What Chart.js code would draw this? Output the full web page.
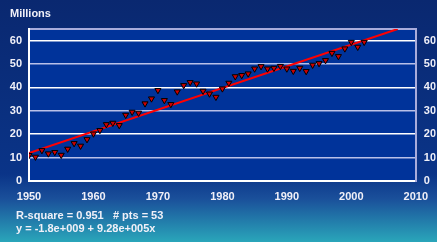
<!DOCTYPE html>
<html>
<head>
<meta charset="utf-8">
<script src="https://cdn.jsdelivr.net/npm/chart.js@4/dist/chart.umd.min.js"></script>
<style>
  html, body { margin: 0; padding: 0; background: #0a2a74; }
  #wrap { width: 437px; height: 242px; }
</style>
</head>
<body>
<div id="wrap"><canvas id="chart" width="437" height="242"></canvas></div>
<script>
// population values (millions)
const years = [1950, 1951, 1952, 1953, 1954, 1955, 1956, 1957, 1958, 1959,
  1960, 1961, 1962, 1963, 1964, 1965, 1966, 1967, 1968, 1969,
  1970, 1971, 1972, 1973, 1974, 1975, 1976, 1977, 1978, 1979,
  1980, 1981, 1982, 1983, 1984, 1985, 1986, 1987, 1988, 1989,
  1990, 1991, 1992, 1993, 1994, 1995, 1996, 1997, 1998, 1999,
  2000, 2001, 2002];
const values = [11.0, 10.3, 13.1, 11.7, 12.3, 11.1, 13.7, 16.1, 15.0, 17.8,
  20.2, 21.7, 24.2, 24.8, 23.8, 28.2, 29.5, 29.1, 33.1, 35.2,
  38.8, 34.5, 32.8, 38.2, 40.9, 42.2, 41.6, 38.5, 37.3, 35.9,
  39.5, 41.9, 44.7, 45.2, 45.9, 48.0, 49.0, 48.0, 48.3, 49.1,
  48.0, 47.0, 48.3, 46.9, 49.6, 50.3, 51.6, 54.7, 53.3, 56.6,
  59.4, 57.3, 59.4];

// fitted line end points
const fitX = [1950, 2007.2];
const fitY = [12.0, 65.0];

const xTicks = [1950, 1960, 1970, 1980, 1990, 2000, 2010];
const yTicks = [0, 10, 20, 30, 40, 50, 60];

const statsText = ['R-square = 0.951   # pts = 53', 'y = -1.8e+009 + 9.28e+005x'];
const unitLabel = 'Millions';

const FONT = 'bold 11px "Liberation Sans", Arial, sans-serif';

// background gradient + plot fill + texts
const decor = {
  id: 'decor',
  beforeDraw(chart) {
    const { ctx, chartArea: a, width, height } = chart;
    ctx.save();
    const g = ctx.createLinearGradient(0, 0, 0, height);
    g.addColorStop(0, '#0a2870');
    g.addColorStop(0.72, '#0a3488');
    g.addColorStop(0.82, '#1a4f9a');
    g.addColorStop(1, '#2aa6ba');
    ctx.fillStyle = g;
    ctx.fillRect(0, 0, width, height);
    ctx.fillStyle = '#00339a';
    ctx.fillRect(a.left, a.top, a.right - a.left, a.bottom - a.top);
    ctx.restore();
  },
  afterDraw(chart) {
    const ctx = chart.ctx;
    ctx.save();
    ctx.font = FONT;
    ctx.fillStyle = '#f0f0f8';
    ctx.textBaseline = 'middle';
    ctx.fillText(unitLabel, 10, 14);
    ctx.fillText(statsText[0], 16, 216);
    ctx.fillText(statsText[1], 16, 229);
    ctx.restore();
  }
};

const tickFont = { family: '"Liberation Sans", Arial, sans-serif', size: 11, weight: 'bold' };

new Chart(document.getElementById('chart'), {
  data: {
    datasets: [
      {
        type: 'scatter',
        data: years.map((y, i) => ({ x: y, y: values[i] })),
        pointStyle: 'triangle',
        rotation: 180,
        radius: 3.5,
        backgroundColor: '#cc0000',
        borderColor: '#000000',
        borderWidth: 1,
        order: 1
      },
      {
        type: 'line',
        data: fitX.map((x, i) => ({ x, y: fitY[i] })),
        borderColor: '#ff0000',
        borderWidth: 2,
        pointRadius: 0,
        fill: false,
        order: 2
      }
    ]
  },
  options: {
    responsive: false,
    animation: false,
    layout: { padding: { top: 29, left: 0, right: 0, bottom: 0 } },
    plugins: { legend: { display: false }, tooltip: { enabled: false } },
    scales: {
      x: {
        type: 'linear', position: 'bottom', min: 1950, max: 2010,
        afterBuildTicks: s => { s.ticks = xTicks.map(v => ({ value: v })); },
        afterFit: s => { s.height = 61; },
        grid: { display: false, drawTicks: false },
        border: { color: '#ffffff', width: 2 },
        ticks: { color: '#f0f0f8', font: tickFont, padding: 9, maxRotation: 0, callback: v => String(v) }
      },
      xTop: {
        type: 'linear', position: 'top', min: 1950, max: 2010,
        afterFit: s => { s.height = 0; },
        grid: { display: false, drawTicks: false },
        border: { color: '#a8acdc', width: 2 },
        ticks: { display: false }
      },
      y: {
        position: 'left', min: 0, max: 65,
        afterBuildTicks: s => { s.ticks = yTicks.map(v => ({ value: v })); },
        afterFit: s => { s.width = 29; },
        grid: { drawTicks: false, color: c => (c.tick && c.tick.value % 20 === 0) ? '#ffffff' : '#b8c0e8', lineWidth: 1.5 },
        border: { color: '#ffffff', width: 2 },
        ticks: { color: '#f0f0f8', font: tickFont, padding: 7 }
      },
      y2: {
        position: 'right', min: 0, max: 65,
        afterBuildTicks: s => { s.ticks = yTicks.map(v => ({ value: v })); },
        afterFit: s => { s.width = 20; },
        grid: { display: false, drawTicks: false },
        border: { color: '#a8acdc', width: 2 },
        ticks: { color: '#f0f0f8', font: tickFont, padding: 8 }
      }
    }
  },
  plugins: [decor]
});
</script>
</body>
</html>
